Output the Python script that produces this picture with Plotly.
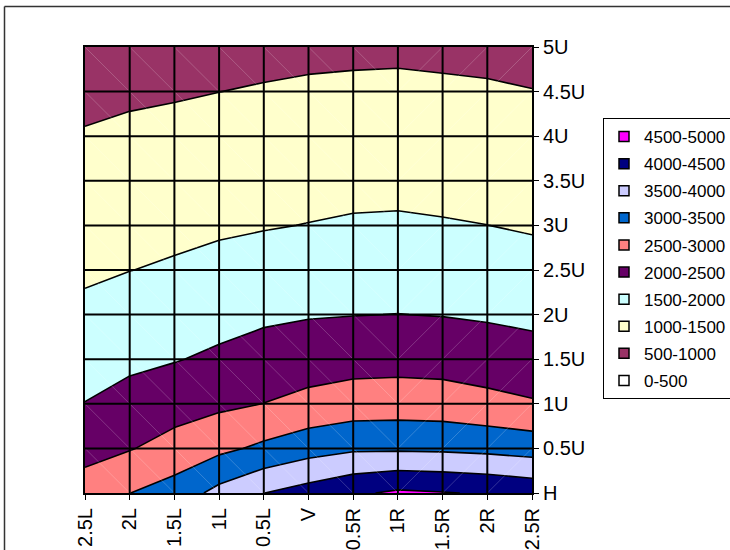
import plotly.graph_objects as go

# Horizontal positions (left to right) and height levels (bottom to top)
x_labels = ["2.5L", "2L", "1.5L", "1L", "0.5L", "V", "0.5R", "1R", "1.5R", "2R", "2.5R"]
y_labels = ["H", "0.5U", "1U", "1.5U", "2U", "2.5U", "3U", "3.5U", "4U", "4.5U", "5U"]

# Measured values, one list per height level
z_H    = [2700, 2995, 3209, 3650, 3995, 4200, 4420, 4580, 4525, 4460, 4350]
z_05U  = [2352, 2472, 2686, 2890, 3097, 3300, 3426, 3431, 3414, 3365, 3288]
z_1U   = [2010, 2160, 2287, 2404, 2505, 2634, 2732, 2750, 2731, 2639, 2545]
z_15U  = [1802, 1904, 1976, 2081, 2199, 2271, 2316, 2329, 2309, 2250, 2185]
z_2U   = [1599, 1697, 1764, 1838, 1918, 1969, 1990, 2005, 1985, 1946, 1893]
z_25U  = [1431, 1494, 1552, 1624, 1689, 1740, 1767, 1780, 1758, 1723, 1663]
z_3U   = [1296, 1354, 1392, 1438, 1474, 1510, 1545, 1555, 1530, 1502, 1457]
z_35U  = [1165, 1217, 1252, 1293, 1328, 1359, 1380, 1387, 1370, 1350, 1310]
z_4U   = [1030, 1078, 1108, 1145, 1179, 1208, 1226, 1233, 1216, 1197, 1160]
z_45U  = [895, 938, 965, 998, 1030, 1057, 1072, 1079, 1062, 1044, 1010]
z_5U   = [763, 801, 825, 852, 884, 909, 921, 928, 911, 895, 863]

band_labels = ["0-500", "500-1000", "1000-1500", "1500-2000", "2000-2500",
               "2500-3000", "3000-3500", "3500-4000", "4000-4500", "4500-5000"]
band_colors = ["#FFFFFF", "#993366", "#FFFFCC", "#CCFFFF", "#660066",
               "#FF8080", "#0066CC", "#CCCCFF", "#000080", "#FF00FF"]
band_size = 500

z = [z_H, z_05U, z_1U, z_15U, z_2U, z_25U, z_3U, z_35U, z_4U, z_45U, z_5U]
nx, ny = len(x_labels), len(y_labels)
xs = list(range(nx))
ys = list(range(ny))

# stepped colour scale: one flat colour per 500-wide band
nb = len(band_colors)
edges = [((k + 1) / (nb + 1) + (2 * k + 3) / (2 * nb)) / 2 for k in range(nb - 1)] + [1.0]
colorscale = []
lo = 0.0
for k, c in enumerate(band_colors):
    colorscale += [[lo, c], [edges[k], c]]
    lo = edges[k]

fig = go.Figure()

fig.add_trace(go.Contour(
    x=xs, y=ys, z=z,
    contours=dict(start=0, end=band_size * nb, size=band_size,
                  coloring="fill", showlines=True),
    line=dict(color="black", width=1.6, smoothing=0),
    colorscale=colorscale, zmin=0, zmax=band_size * nb,
    showscale=False, hoverinfo="skip", showlegend=False,
))

# faint triangulation diagonals inside every cell
dx, dy = [], []
for i in range(nx - 1):
    for j in range(ny - 1):
        if i < 7:
            dx += [i, i + 1, None]
            dy += [j + 1, j, None]
        else:
            dx += [i, i + 1, None]
            dy += [j, j + 1, None]
fig.add_trace(go.Scatter(x=dx, y=dy, mode="lines",
                         line=dict(color="rgba(255,255,255,0.2)", width=1),
                         hoverinfo="skip", showlegend=False))

# legend entries, highest band first
for lab, col in reversed(list(zip(band_labels, band_colors))):
    fig.add_trace(go.Scatter(
        x=[None], y=[None], mode="markers", name=lab, legendgroup=lab,
        marker=dict(symbol="square", size=10, color=col,
                    line=dict(color="black", width=1.5)),
    ))

# black grid drawn over the filled bands
for i in xs[1:-1]:
    fig.add_shape(type="line", x0=i, x1=i, y0=ys[0], y1=ys[-1],
                  line=dict(color="black", width=2), layer="above")
for j in ys[1:-1]:
    fig.add_shape(type="line", x0=xs[0], x1=xs[-1], y0=j, y1=j,
                  line=dict(color="black", width=2), layer="above")

W, H = 730, 550
ml, mr, mt, mb = 85, 198, 47, 57
pw, ph = W - ml - mr, H - mt - mb

# chart-area frame (top and left edges)
fx = (4.5 - ml) / pw
fy = (H - mb - 6.5) / ph
fig.add_shape(type="line", xref="paper", yref="paper", x0=fx, x1=(W - ml) / pw + 0.05,
              y0=fy, y1=fy, line=dict(color="#333333", width=1.5))
fig.add_shape(type="line", xref="paper", yref="paper", x0=fx, x1=fx,
              y0=fy, y1=-mb / ph - 0.05, line=dict(color="#333333", width=1.5))

font = "Liberation Sans, Arial, sans-serif"
fig.update_layout(
    width=W, height=H,
    margin=dict(l=ml, r=mr, t=mt, b=mb, pad=0, autoexpand=False),
    paper_bgcolor="white", plot_bgcolor="white",
    font=dict(family=font, size=20, color="black"),
    xaxis=dict(range=[xs[0], xs[-1]], tickmode="array", tickvals=xs, ticktext=x_labels,
               tickangle=-90, ticks="outside", ticklen=5, tickwidth=1, tickcolor="black",
               showgrid=False, zeroline=False, showline=True, linecolor="black",
               linewidth=2, mirror=True, tickfont=dict(size=20), automargin=False),
    yaxis=dict(range=[ys[0], ys[-1]], tickmode="array", tickvals=ys, ticktext=y_labels,
               side="right", ticks="outside", ticklen=5, tickwidth=1, tickcolor="black",
               showgrid=False, zeroline=False, showline=True, linecolor="black",
               linewidth=2, mirror=True, tickfont=dict(size=20), automargin=False),
    legend=dict(x=(603 - ml) / pw, y=(H - mb - 118) / ph, xanchor="left", yanchor="top",
                bordercolor="black", borderwidth=1, bgcolor="white",
                font=dict(size=17, family=font), tracegroupgap=2,
                itemclick=False, itemdoubleclick=False),
    showlegend=True,
)

fig.write_html("out.html")
